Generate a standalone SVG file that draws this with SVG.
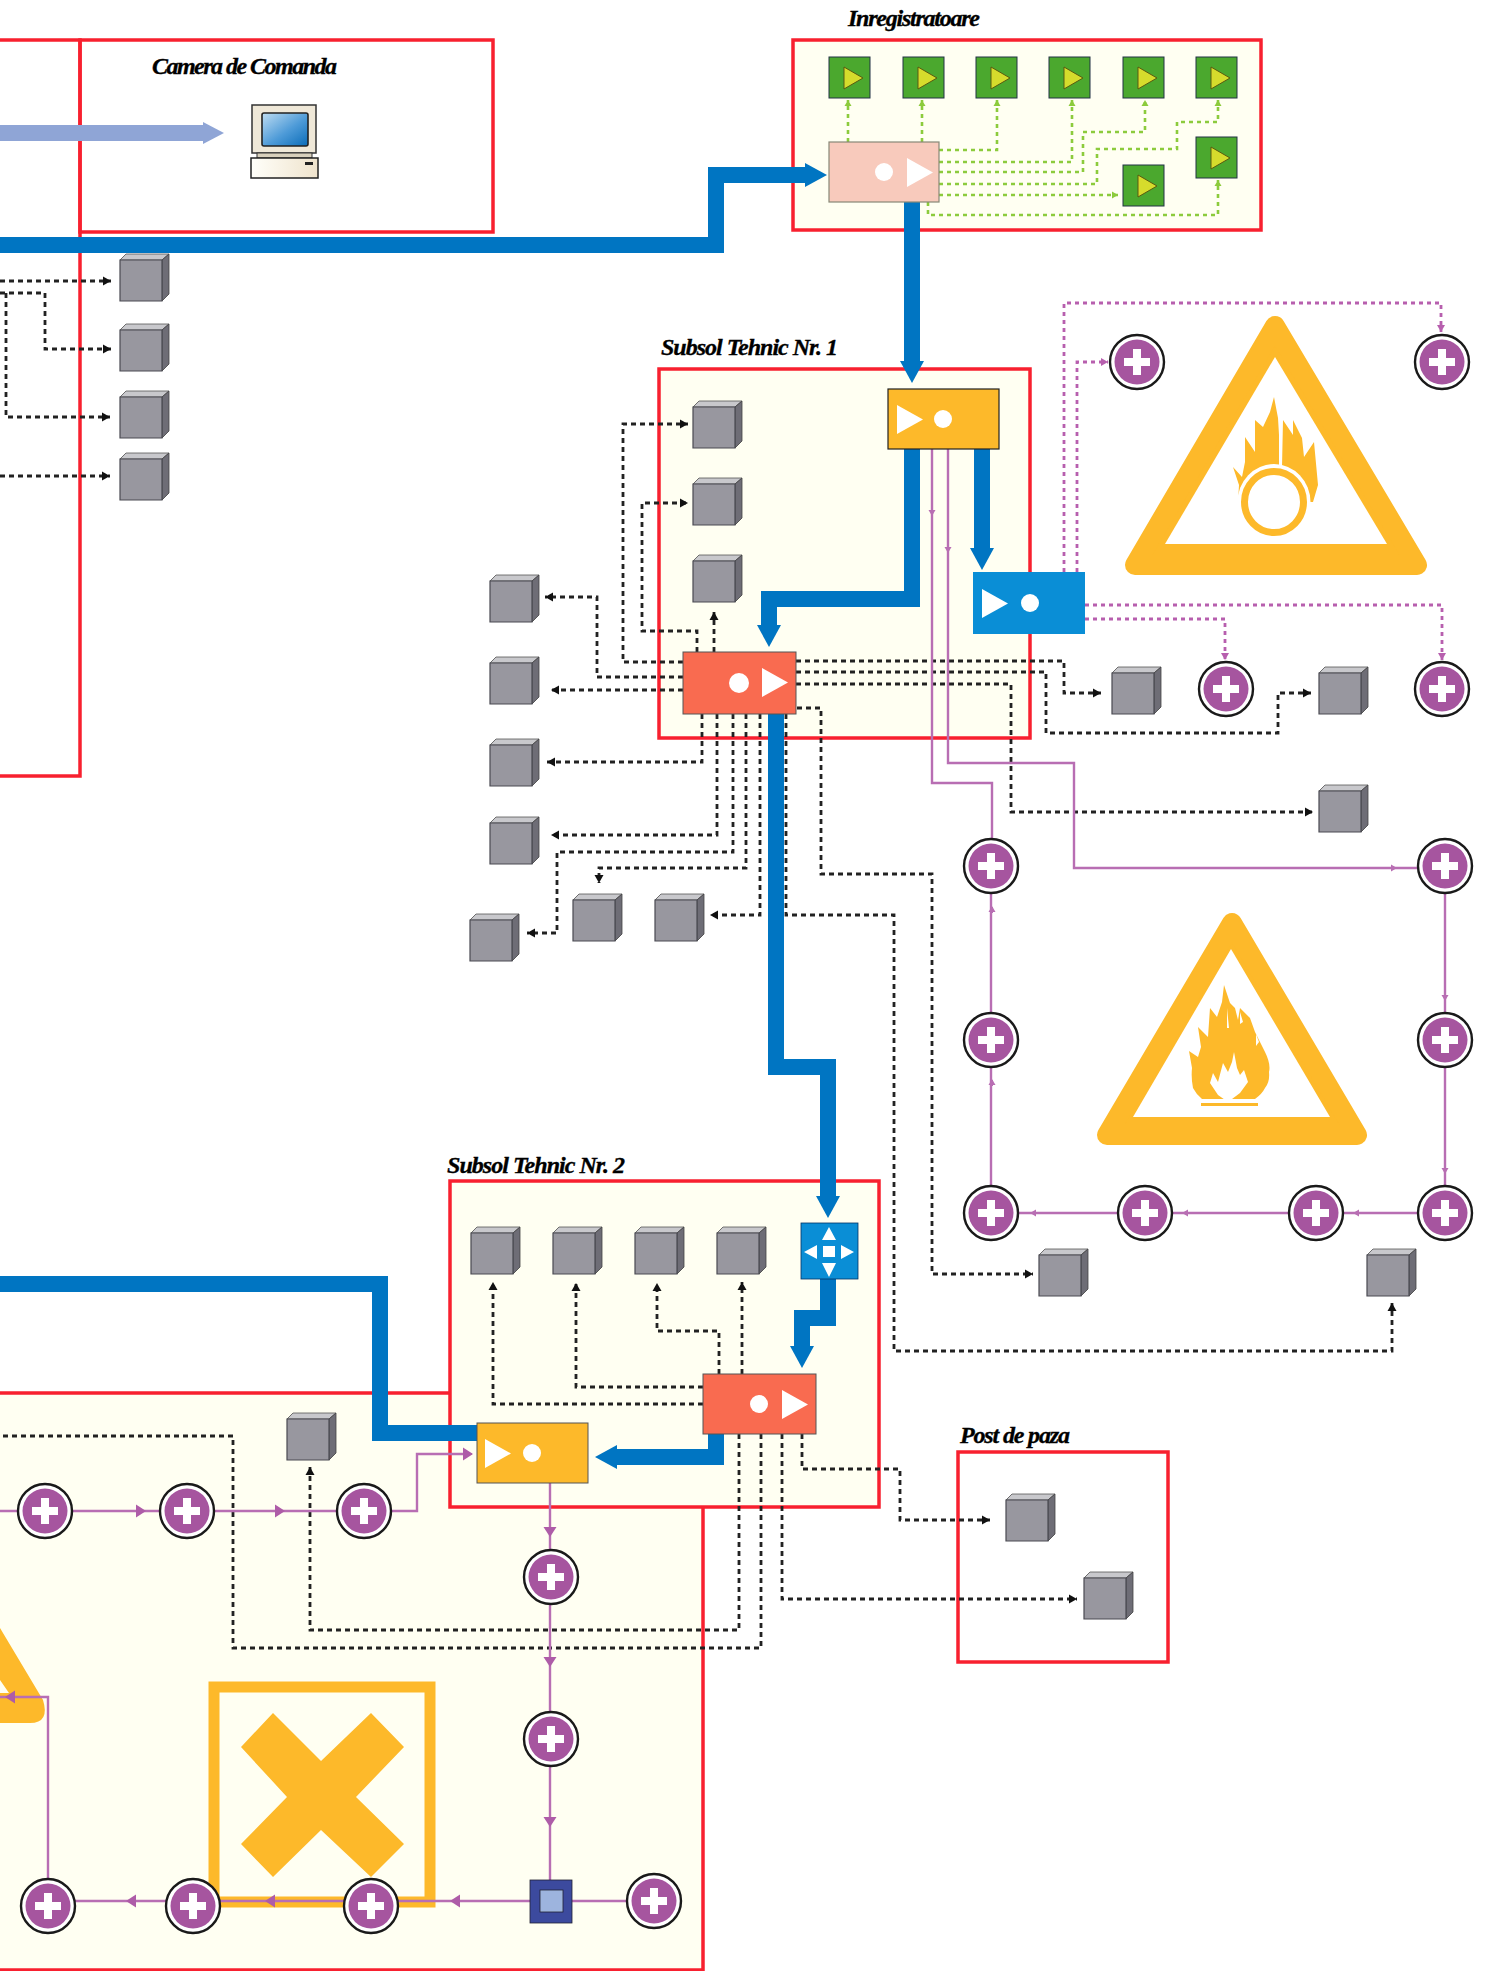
<svg xmlns="http://www.w3.org/2000/svg" width="1487" height="1971" viewBox="0 0 1487 1971">
<style>
.reg{stroke:#F8202F;stroke-width:3.5;fill:none}
.lbl{font-family:"Liberation Serif",serif;font-weight:bold;font-style:italic;font-size:24px;fill:#000;stroke:#000;stroke-width:.35}
.thick{fill:none;stroke:#0075C2;stroke-width:16;marker-end:url(#ah)}
.thickn{fill:none;stroke:#0075C2;stroke-width:16}
.dot{fill:none;stroke:#222;stroke-width:2.8;stroke-dasharray:5 4;marker-end:url(#ab)}
.don{fill:none;stroke:#222;stroke-width:2.8;stroke-dasharray:5 4}
.grn{fill:none;stroke:#8CCB3C;stroke-width:2.6;stroke-dasharray:4 4;marker-end:url(#ag)}
.pnk{fill:none;stroke:#B75FAE;stroke-width:2.8;stroke-dasharray:4 4;marker-end:url(#ap)}
.pur{fill:none;stroke:#B86EB3;stroke-width:2.4}
.ps{fill:none;stroke:#B86EB3;stroke-width:2;marker-end:url(#am)}
.pb{fill:none;stroke:#B86EB3;stroke-width:2;marker-end:url(#an)}
.org{fill:#FDB92A}
.wh{fill:#fff}
.box{stroke:#555;stroke-width:1}
</style>
<defs>
<marker id="ah" markerUnits="userSpaceOnUse" markerWidth="24" markerHeight="24" refX="0" refY="12" orient="auto" overflow="visible"><path d="M0 0L22 12L0 24Z" fill="#0075C2"/></marker>
<marker id="ab" markerUnits="userSpaceOnUse" markerWidth="9" markerHeight="9" refX="8" refY="4.5" orient="auto" overflow="visible"><path d="M0 0L8 4.5L0 9Z" fill="#111"/></marker>
<marker id="ag" markerUnits="userSpaceOnUse" markerWidth="7" markerHeight="7" refX="6" refY="3.5" orient="auto" overflow="visible"><path d="M0 0L6 3.5L0 7Z" fill="#8CCB3C"/></marker>
<marker id="ap" markerUnits="userSpaceOnUse" markerWidth="8" markerHeight="8" refX="7" refY="4" orient="auto" overflow="visible"><path d="M0 0L7 4L0 8Z" fill="#B75FAE"/></marker>
<marker id="am" markerUnits="userSpaceOnUse" markerWidth="7" markerHeight="7" refX="5" refY="3.5" orient="auto" overflow="visible"><path d="M0 0L6 3.5L0 7Z" fill="#B86EB3"/></marker>
<marker id="an" markerUnits="userSpaceOnUse" markerWidth="11" markerHeight="13" refX="9" refY="6.5" orient="auto" overflow="visible"><path d="M0 0L10 6.5L0 13Z" fill="#AE5CA8"/></marker>
<linearGradient id="scr" x1="0" y1="0" x2="1" y2="1"><stop offset="0" stop-color="#BFDDF2"/><stop offset=".55" stop-color="#4E9BD8"/><stop offset="1" stop-color="#0A6CB8"/></linearGradient>
<linearGradient id="basef" x1="0" y1="0" x2="1" y2="0"><stop offset="0" stop-color="#FFFFFA"/><stop offset="1" stop-color="#EFE3CC"/></linearGradient>
<g id="cube">
<path d="M0 6L6 0H49V40L42 47H0Z" fill="#98979F"/>
<path d="M0 6L6 0H49L42 6Z" fill="#C8C8CC" stroke="#555" stroke-width=".8"/>
<path d="M42 6L49 0V40L42 47Z" fill="#6E6D76" stroke="#444" stroke-width=".8"/>
<path d="M0 6H42V47H0Z" fill="#98979F" stroke="#4A4A52" stroke-width="1.2"/>
</g>
<g id="det">
<circle r="27" fill="#fff" stroke="#1A1A1A" stroke-width="2.4"/>
<circle r="22.5" fill="#A6559F"/>
<path d="M-4 -13H4V-4H13V4H4V13H-4V4H-13V-4H-4Z" fill="#fff"/>
</g>
<g id="gs">
<rect width="41" height="41" fill="#4BA82E" stroke="#234" stroke-width="1"/>
<path d="M15 10V32L34 21Z" fill="#D6DC2C" stroke="#5A5A10" stroke-width="1"/>
</g>
<path id="play" d="M0 0V29L26 14.5Z" fill="#fff"/>
</defs>

<g id="region-left"><rect class="reg" x="-5" y="40" width="85" height="736" style="fill:#fff"/></g>
<g id="region-camera"><rect class="reg" x="80" y="40" width="413" height="192"/><text class="lbl" x="152" y="74" textLength="185" lengthAdjust="spacing">Camera de Comanda</text></g>
<g id="region-inregistratoare"><rect class="reg" style="fill:#FFFFF2" x="793" y="40" width="468" height="190"/><text class="lbl" x="848" y="26" textLength="132" lengthAdjust="spacing">Inregistratoare</text></g>
<g id="region-subsol1"><rect class="reg" style="fill:#FFFFF2" x="659" y="369" width="371" height="369"/><text class="lbl" x="661" y="355" textLength="177" lengthAdjust="spacing">Subsol Tehnic Nr. 1</text></g>
<g id="region-bottom"><rect class="reg" style="fill:#FFFFF2" x="-5" y="1393" width="708" height="577"/></g>
<g id="region-subsol2"><rect class="reg" style="fill:#FFFFF2" x="450" y="1181" width="429" height="326"/><text class="lbl" x="447" y="1173" textLength="178" lengthAdjust="spacing">Subsol Tehnic Nr. 2</text></g>
<g id="region-post"><rect class="reg" x="958" y="1452" width="210" height="210"/><text class="lbl" x="960" y="1443" textLength="110" lengthAdjust="spacing">Post de paza</text></g>

<g id="hazard-oxidizer">
<path class="org" stroke="#FDB92A" stroke-width="20" stroke-linejoin="round" d="M1275 326L1417 565H1135Z"/>
<path class="wh" d="M1275 357L1387 544H1165Z"/>
<path class="org" d="M1238 502L1239 485L1233 467L1242 477L1245 462L1245 437L1255 452L1255 420L1263 427L1270 412L1274 397L1278 418L1279 435L1279 467H1282L1283 420L1293 435L1293 420L1302 438L1304 457L1314 442L1318 485L1313 502Z"/>
<ellipse cx="1274" cy="502" rx="36.5" ry="38" fill="#fff"/>
<ellipse cx="1274" cy="502" rx="29.5" ry="30.5" fill="none" stroke="#FDB92A" stroke-width="7"/>
</g>
<g id="hazard-flame">
<path class="org" stroke="#FDB92A" stroke-width="20" stroke-linejoin="round" d="M1232 923L1357 1135H1107Z"/>
<path class="wh" d="M1231 949L1330 1117H1133Z"/>
<path class="org" d="M1224 985L1230 1003L1235 1008L1238 1020L1240 1008L1250 1018L1255 1032L1265 1052Q1271 1064 1269 1072Q1270 1082 1265 1088Q1262 1094 1255 1099H1202Q1196 1094 1193 1088Q1191 1078 1192 1068L1189 1051L1198 1057L1201 1047L1198 1027L1208 1037L1210 1008L1217 1017L1222 1002Z"/>
<path class="wh" d="M1227 1008L1229 1028L1227 1028ZM1240 1012L1243 1022L1240 1024ZM1256 1034L1259 1042L1256 1046ZM1234 1052L1237 1068L1240 1075L1244 1070L1248 1082L1240 1093L1228 1102L1218 1095L1210 1083L1213 1073L1218 1082L1223 1063L1228 1072L1232 1062Z"/>
<rect class="org" x="1201" y="1103" width="57" height="3"/>
</g>
<g id="hazard-partial">
<path class="org" d="M0 1628L43 1700Q50 1723 30 1723H0ZM0 1680V1693H9Z" fill-rule="evenodd"/>
</g>
<g id="hazard-cross">
<rect x="214" y="1687" width="216" height="215" fill="none" stroke="#FDB92A" stroke-width="11"/>
<path class="org" d="M273 1713L321 1761L371 1713L404 1747L356 1797L404 1844L371 1877L321 1830L273 1877L241 1844L287 1797L241 1747Z"/>
</g>

<g id="connectors">
<path fill="none" stroke="#8FA5D6" stroke-width="16" d="M0 133H203"/>
<path d="M203 122L224 133L203 144Z" fill="#8FA5D6"/>
<path class="thick" d="M0 245H716V175H805"/>
<path class="thick" d="M912 202V361"/>
<path class="thick" d="M912 449V599H769V625"/>
<path class="thick" d="M982 449V548"/>
<path class="thick" d="M776 714V1067H828V1196"/>
<path class="thick" d="M828 1279V1318H802V1346"/>
<path class="thick" d="M716 1434V1457H617"/>
<path class="thickn" d="M0 1284H380V1433H477"/>
<path class="grn" d="M848 142V100"/>
<path class="grn" d="M922 142V100"/>
<path class="grn" d="M939 150H997V100"/>
<path class="grn" d="M939 162H1072V100"/>
<path class="grn" d="M939 172H1083V132H1145V100"/>
<path class="grn" d="M939 184H1097V149H1177V122H1218V100"/>
<path class="grn" d="M939 195H1118"/>
<path class="grn" d="M928 202V215H1218V180"/>
<path class="pnk" d="M1064 572V303H1441V332"/>
<path class="pnk" d="M1077 572V362H1108"/>
<path class="pnk" d="M1085 605H1442V660"/>
<path class="pnk" d="M1085 619H1225V660"/>
<path class="dot" d="M683 662H623V424H688"/>
<path class="dot" d="M697 652V631H642V503H688"/>
<path class="dot" d="M714 652V612"/>
<path class="dot" d="M683 677H597V597H545"/>
<path class="dot" d="M683 690H551"/>
<path class="dot" d="M702 714V762H547"/>
<path class="dot" d="M717 714V835H551"/>
<path class="dot" d="M733 714V852H557V933H527"/>
<path class="dot" d="M746 714V868H599V883"/>
<path class="dot" d="M760 714V915H710"/>
<path class="dot" d="M786 714V915H894V1351H1392V1303"/>
<path class="dot" d="M797 708H821V874H932V1274H1033"/>
<path class="dot" d="M796 661H1064V693H1101"/>
<path class="dot" d="M796 672H1046V733H1278V693H1311"/>
<path class="dot" d="M796 684H1011V812H1313"/>
<path class="dot" d="M0 281H111"/>
<path class="dot" d="M0 293H45V349H111"/>
<path class="dot" d="M6 293V417H110"/>
<path class="dot" d="M0 476H110"/>
<path class="dot" d="M703 1404H493V1282"/>
<path class="dot" d="M703 1387H576V1283"/>
<path class="dot" d="M719 1374V1331H657V1283"/>
<path class="dot" d="M742 1374V1282"/>
<path class="dot" d="M802 1434V1469H900V1520H990"/>
<path class="dot" d="M782 1434V1599H1077"/>
<path class="dot" d="M739 1434V1630H310V1467"/>
<path class="don" d="M761 1434V1648H233V1436H0"/>
<path class="pur" d="M932 449V783H992V840"/>
<path class="pur" d="M948 449V763H1074V868H1418"/>
<path class="pur" d="M991 893V1186"/>
<path class="pur" d="M1445 893V1186"/>
<path class="pur" d="M1445 1213H1018"/>
<path class="ps" d="M932 510V515"/>
<path class="ps" d="M948 547V552"/>
<path class="ps" d="M1390 868H1396"/>
<path class="ps" d="M992 913V907"/>
<path class="ps" d="M992 1086V1080"/>
<path class="ps" d="M1445 994V1000"/>
<path class="ps" d="M1445 1167V1173"/>
<path class="ps" d="M1360 1213H1354"/>
<path class="ps" d="M1189 1213H1183"/>
<path class="ps" d="M1037 1213H1031"/>
<path class="pur" d="M0 1511H337"/>
<path class="pur" d="M391 1511H417V1454H465"/>
<path class="pb" d="M464 1454H472"/>
<path class="pb" d="M135 1511H145"/>
<path class="pb" d="M274 1511H284"/>
<path class="pur" d="M550 1483V1880"/>
<path class="pb" d="M550 1526V1536"/>
<path class="pb" d="M550 1656V1666"/>
<path class="pb" d="M550 1816V1826"/>
<path class="pur" d="M654 1901H21"/>
<path class="pur" d="M48 1880V1697H0"/>
<path class="pb" d="M461 1901H451"/>
<path class="pb" d="M276 1901H266"/>
<path class="pb" d="M137 1901H127"/>
<path class="pb" d="M16 1697H6"/>
</g>

<g id="monitor">
<rect x="252" y="105" width="64" height="48" fill="#EFE8D8" stroke="#333" stroke-width="1.5"/>
<rect x="262" y="113" width="46" height="33" rx="2" fill="url(#scr)" stroke="#222" stroke-width="1.6"/>
<rect x="257" y="153" width="55" height="5" fill="#D8D0BC" stroke="#333"/>
<rect x="251" y="158" width="67" height="20" fill="url(#basef)" stroke="#222" stroke-width="1.5"/>
<rect x="305" y="162" width="8" height="3" fill="#222"/>
</g>

<g id="rec-main"><rect x="829" y="142" width="110" height="60" fill="#F8CABC" stroke="#887" stroke-width="1.2"/><circle cx="884" cy="172" r="9" fill="#fff"/><use href="#play" x="907" y="158"/></g>
<g id="rec-1"><use href="#gs" x="829" y="57"/></g>
<g id="rec-2"><use href="#gs" x="903" y="57"/></g>
<g id="rec-3"><use href="#gs" x="976" y="57"/></g>
<g id="rec-4"><use href="#gs" x="1049" y="57"/></g>
<g id="rec-5"><use href="#gs" x="1123" y="57"/></g>
<g id="rec-6"><use href="#gs" x="1196" y="57"/></g>
<g id="rec-7"><use href="#gs" x="1196" y="137"/></g>
<g id="rec-8"><use href="#gs" x="1123" y="165"/></g>

<g id="ctl-orange-1"><rect class="org" x="888" y="389" width="111" height="60" stroke="#222" stroke-width="1.2"/><use href="#play" x="897" y="405"/><circle cx="943" cy="419" r="9" fill="#fff"/></g>
<g id="ctl-blue-1"><rect x="973" y="572" width="112" height="62" fill="#0A8ED6"/><use href="#play" x="982" y="589"/><circle cx="1030" cy="603" r="9" fill="#fff"/></g>
<g id="ctl-red-1"><rect class="box" x="683" y="652" width="113" height="62" fill="#F96B50"/><circle cx="739" cy="683" r="10" fill="#fff"/><use href="#play" x="762" y="668"/></g>
<g id="ctl-red-2"><rect class="box" x="703" y="1374" width="113" height="60" fill="#F96B50"/><circle cx="759" cy="1404" r="9" fill="#fff"/><use href="#play" x="782" y="1390"/></g>
<g id="ctl-orange-2"><rect class="org box" x="477" y="1423" width="111" height="60"/><use href="#play" x="485" y="1439"/><circle cx="532" cy="1453" r="9" fill="#fff"/></g>
<g id="router"><rect x="801" y="1223" width="57" height="56" fill="#0A8ED6" stroke="#036" stroke-width=".8"/>
<path fill="#fff" d="M823 1246H835V1257H823ZM829 1227L836 1240H822ZM829 1277L822 1263H836ZM804 1252L817 1245V1259ZM854 1252L841 1245V1259Z"/></g>
<g id="panel"><rect x="530" y="1880" width="42" height="43" fill="#3C4A9E" stroke="#223" stroke-width=".8"/><rect x="540" y="1890" width="23" height="22" fill="#9DB4DE" stroke="#223" stroke-width=".8"/></g>

<g id="cube-01"><use href="#cube" x="120" y="254"/></g>
<g id="cube-02"><use href="#cube" x="120" y="324"/></g>
<g id="cube-03"><use href="#cube" x="120" y="391"/></g>
<g id="cube-04"><use href="#cube" x="120" y="453"/></g>
<g id="cube-05"><use href="#cube" x="693" y="401"/></g>
<g id="cube-06"><use href="#cube" x="693" y="478"/></g>
<g id="cube-07"><use href="#cube" x="693" y="555"/></g>
<g id="cube-08"><use href="#cube" x="490" y="575"/></g>
<g id="cube-09"><use href="#cube" x="490" y="657"/></g>
<g id="cube-10"><use href="#cube" x="490" y="739"/></g>
<g id="cube-11"><use href="#cube" x="490" y="817"/></g>
<g id="cube-12"><use href="#cube" x="470" y="914"/></g>
<g id="cube-13"><use href="#cube" x="573" y="894"/></g>
<g id="cube-14"><use href="#cube" x="655" y="894"/></g>
<g id="cube-15"><use href="#cube" x="1112" y="667"/></g>
<g id="cube-16"><use href="#cube" x="1319" y="667"/></g>
<g id="cube-17"><use href="#cube" x="1319" y="785"/></g>
<g id="cube-18"><use href="#cube" x="1039" y="1249"/></g>
<g id="cube-19"><use href="#cube" x="1367" y="1249"/></g>
<g id="cube-20"><use href="#cube" x="471" y="1227"/></g>
<g id="cube-21"><use href="#cube" x="553" y="1227"/></g>
<g id="cube-22"><use href="#cube" x="635" y="1227"/></g>
<g id="cube-23"><use href="#cube" x="717" y="1227"/></g>
<g id="cube-24"><use href="#cube" x="287" y="1413"/></g>
<g id="cube-25"><use href="#cube" x="1006" y="1494"/></g>
<g id="cube-26"><use href="#cube" x="1084" y="1572"/></g>

<g id="det-01"><use href="#det" x="1137" y="362"/></g>
<g id="det-02"><use href="#det" x="1442" y="362"/></g>
<g id="det-03"><use href="#det" x="1226" y="689"/></g>
<g id="det-04"><use href="#det" x="1442" y="689"/></g>
<g id="det-05"><use href="#det" x="991" y="866"/></g>
<g id="det-06"><use href="#det" x="1445" y="866"/></g>
<g id="det-07"><use href="#det" x="991" y="1040"/></g>
<g id="det-08"><use href="#det" x="1445" y="1040"/></g>
<g id="det-09"><use href="#det" x="991" y="1213"/></g>
<g id="det-10"><use href="#det" x="1145" y="1213"/></g>
<g id="det-11"><use href="#det" x="1316" y="1213"/></g>
<g id="det-12"><use href="#det" x="1445" y="1213"/></g>
<g id="det-13"><use href="#det" x="45" y="1511"/></g>
<g id="det-14"><use href="#det" x="187" y="1511"/></g>
<g id="det-15"><use href="#det" x="364" y="1511"/></g>
<g id="det-16"><use href="#det" x="551" y="1577"/></g>
<g id="det-17"><use href="#det" x="551" y="1739"/></g>
<g id="det-18"><use href="#det" x="654" y="1901"/></g>
<g id="det-19"><use href="#det" x="371" y="1906"/></g>
<g id="det-20"><use href="#det" x="193" y="1906"/></g>
<g id="det-21"><use href="#det" x="48" y="1906"/></g>
</svg>
